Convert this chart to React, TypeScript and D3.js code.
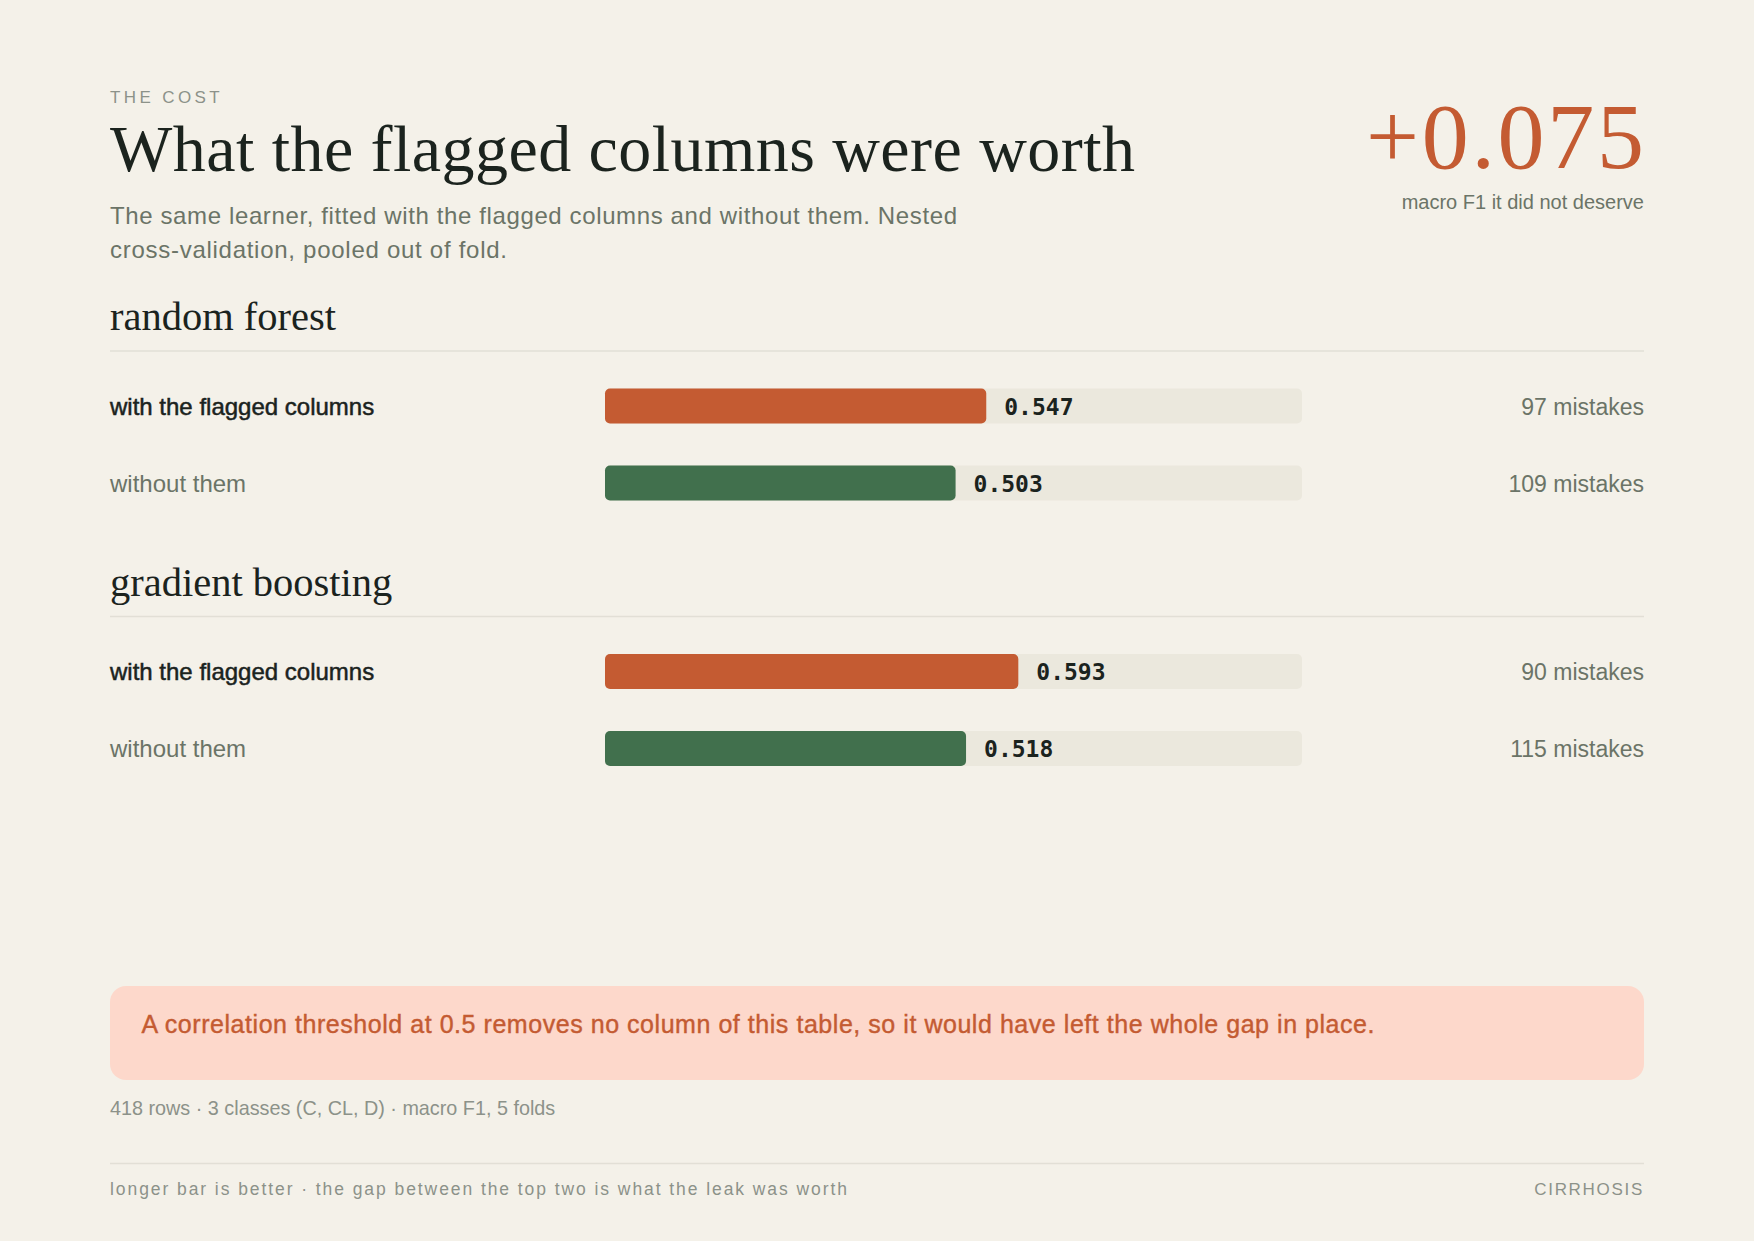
import React from "react";
import * as d3 from "d3";

// ---- data ----
const models = ["random forest", "gradient boosting"];
const variants = ["with the flagged columns", "without them"];
const f1Scores = [
  [0.547, 0.503],
  [0.593, 0.518],
];
const mistakeCounts = [
  [97, 109],
  [90, 115],
];
const eyebrow = "THE COST";
const title = "What the flagged columns were worth";
const subtitleLines = [
  "The same learner, fitted with the flagged columns and without them. Nested",
  "cross-validation, pooled out of fold.",
];
const headlineCaption = "macro F1 it did not deserve";
const noteText =
  "A correlation threshold at 0.5 removes no column of this table, so it would have left the whole gap in place.";
const metaText = "418 rows · 3 classes (C, CL, D) · macro F1, 5 folds";
const footerLeft = "longer bar is better · the gap between the top two is what the leak was worth";
const footerRight = "CIRRHOSIS";

// ---- style ----
const W = 1754;
const H = 1241;
const L = 110;
const R = 1644;
const BG = "#f4f1e9";
const INK = "#1b231e";
const MUTED = "#6b7467";
const FAINT = "#8c9289";
const RULE = "#e2dfd6";
const TRACK = "#ebe8dd";
const RED = "#c45b32";
const GREEN = "#41704d";
const NOTE_BG = "#fdd8cb";
const SANS = "'Liberation Sans', Arial, Helvetica, sans-serif";
const SERIF = "'Liberation Serif', 'Times New Roman', serif";
const MONO = "'DejaVu Sans Mono', monospace";

export default function App() {
  const x = d3.scaleLinear().domain([0, 1]).range([605, 1302]);
  const gaps = f1Scores.map((s) => s[0] - s[1]);
  const maxGap = d3.max(gaps) as number;
  const headline = "+" + d3.format(".3f")(maxGap);

  const sectionTop = d3.scaleLinear().domain([0, 1]).range([351, 616.5]);
  const barH = 35;
  const rowGap = 77;
  const firstRowOffset = 55;
  const subtitleWidths = [847, 397];

  return (
    <svg
      width={W}
      height={H}
      viewBox={`0 0 ${W} ${H}`}
      style={{ position: "absolute", left: 0, top: 0, display: "block" }}
    >
      <rect x={0} y={0} width={W} height={H} fill={BG} />

      {/* header */}
      <text x={L} y={102.5} fontFamily={SANS} fontSize={17} letterSpacing={3.4} fill={FAINT}>
        {eyebrow}
      </text>
      <text
        x={L}
        y={171}
        fontFamily={SERIF}
        fontSize={66}
        fill={INK}
        textLength={1025}
        lengthAdjust="spacing"
      >
        {title}
      </text>
      {subtitleLines.map((t, i) => (
        <text
          key={i}
          x={L}
          y={224 + i * 34}
          fontFamily={SANS}
          fontSize={24}
          fill={MUTED}
          textLength={subtitleWidths[i]}
          lengthAdjust="spacing"
        >
          {t}
        </text>
      ))}
      <text
        x={R - 278}
        y={168}
        fontFamily={SERIF}
        fontSize={94}
        fill={RED}
        textLength={278}
        lengthAdjust="spacing"
      >
        {headline}
      </text>
      <text x={R} y={209} textAnchor="end" fontFamily={SANS} fontSize={20} fill={MUTED}>
        {headlineCaption}
      </text>

      {/* sections */}
      {models.map((m, mi) => {
        const top = sectionTop(mi);
        return (
          <g key={m}>
            <text x={L} y={top - 21} fontFamily={SERIF} fontSize={40.5} fill={INK}>
              {m}
            </text>
            <line x1={L} x2={R} y1={top} y2={top} stroke={RULE} strokeWidth={1.5} />
            {variants.map((v, vi) => {
              const cy = top + firstRowOffset + vi * rowGap;
              const val = f1Scores[mi][vi];
              const strong = vi === 0;
              return (
                <g key={v}>
                  <text
                    x={L}
                    y={cy + 8.5}
                    fontFamily={SANS}
                    fontSize={24}
                    fill={strong ? INK : MUTED}
                    stroke={strong ? INK : "none"}
                    strokeWidth={strong ? 0.5 : 0}
                  >
                    {v}
                  </text>
                  <rect
                    x={x(0)}
                    y={cy - barH / 2}
                    width={x(1) - x(0)}
                    height={barH}
                    rx={5}
                    fill={TRACK}
                  />
                  <rect
                    x={x(0)}
                    y={cy - barH / 2}
                    width={x(val) - x(0)}
                    height={barH}
                    rx={5}
                    fill={strong ? RED : GREEN}
                  />
                  <text
                    x={x(val) + 18}
                    y={cy + 8.5}
                    fontFamily={MONO}
                    fontWeight={700}
                    fontSize={23}
                    fill={INK}
                  >
                    {d3.format(".3f")(val)}
                  </text>
                  <text
                    x={R}
                    y={cy + 8.5}
                    textAnchor="end"
                    fontFamily={SANS}
                    fontSize={23}
                    fill={MUTED}
                  >
                    {`${mistakeCounts[mi][vi]} mistakes`}
                  </text>
                </g>
              );
            })}
          </g>
        );
      })}

      {/* note */}
      <rect x={L} y={986} width={R - L} height={94} rx={16} fill={NOTE_BG} />
      <text
        x={141.5}
        y={1032.5}
        fontFamily={SANS}
        fontSize={25}
        fill={RED}
        stroke={RED}
        strokeWidth={0.4}
        textLength={1233}
        lengthAdjust="spacing"
      >
        {noteText}
      </text>

      <text x={L} y={1115} fontFamily={SANS} fontSize={19.8} fill={FAINT}>
        {metaText}
      </text>

      <line x1={L} x2={R} y1={1163.5} y2={1163.5} stroke={RULE} strokeWidth={1.5} />
      <text
        x={L}
        y={1194.5}
        fontFamily={SANS}
        fontSize={17.5}
        fill={FAINT}
        textLength={737}
        lengthAdjust="spacing"
      >
        {footerLeft}
      </text>
      <text
        x={R}
        y={1194.5}
        textAnchor="end"
        fontFamily={SANS}
        fontSize={17}
        letterSpacing={1.7}
        fill={FAINT}
      >
        {footerRight}
      </text>
    </svg>
  );
}
